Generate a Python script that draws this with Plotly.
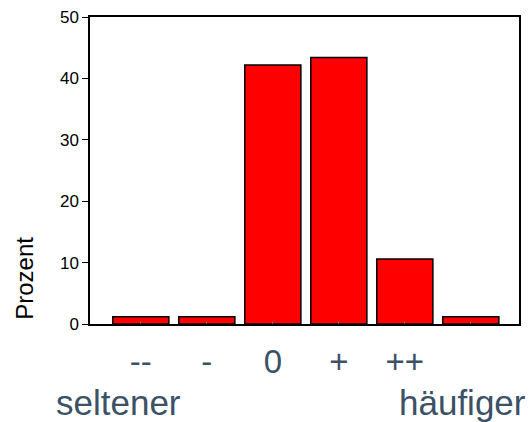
import plotly.graph_objects as go

positions = [0, 1, 2, 3, 4, 5]
tick_labels = ["--", "-", "0", "+", "++", ""]
percent = [1.2, 1.2, 42.2, 43.4, 10.6, 1.2]
y_ticks = [0, 10, 20, 30, 40, 50]

FONT = "Liberation Sans, Arial, sans-serif"
TXT = "#3b5166"

fig = go.Figure()
fig.add_trace(go.Bar(
    x=positions, y=percent, width=0.85,
    marker=dict(color="#ff0000", line=dict(color="#000000", width=1.5)),
    hoverinfo="skip",
))

fig.update_layout(
    width=531, height=422,
    margin=dict(l=90, r=12, t=17, b=98, autoexpand=False),
    paper_bgcolor="white", plot_bgcolor="white",
    showlegend=False,
    font=dict(family=FONT),
    xaxis=dict(
        range=[-0.77, 5.73], tickvals=positions, ticktext=tick_labels,
        showgrid=False, zeroline=False, automargin=False,
        showline=True, linecolor="#000000", linewidth=1.5, mirror=True,
        ticks="inside", ticklen=3, tickcolor="#666666",
        tickfont=dict(size=33, color=TXT, family=FONT),
        ticklabelstandoff=8,
    ),
    yaxis=dict(
        range=[0, 50], tickvals=y_ticks, automargin=False,
        showgrid=False, zeroline=False,
        showline=True, linecolor="#000000", linewidth=1.5, mirror=True,
        ticks="outside", ticklen=6, tickcolor="#000000",
        tickfont=dict(size=17, color="#000000", family=FONT),
    ),
    annotations=[
        dict(text="Prozent", xref="paper", yref="paper", x=-0.152, y=0.15,
             xanchor="center", yanchor="middle", showarrow=False, textangle=-90,
             font=dict(size=24, color="#000000", family=FONT)),
        dict(text="seltener", xref="paper", yref="paper", x=-0.083, y=-0.255,
             xanchor="left", yanchor="middle", showarrow=False,
             font=dict(size=35, color=TXT, family=FONT)),
        dict(text="häufiger", xref="paper", yref="paper", x=1.02, y=-0.255,
             xanchor="right", yanchor="middle", showarrow=False,
             font=dict(size=35, color=TXT, family=FONT)),
    ],
)

fig.write_html("out.html", config={"displayModeBar": False},
               post_script="document.body.style.margin='0';document.body.style.overflow='hidden';")
